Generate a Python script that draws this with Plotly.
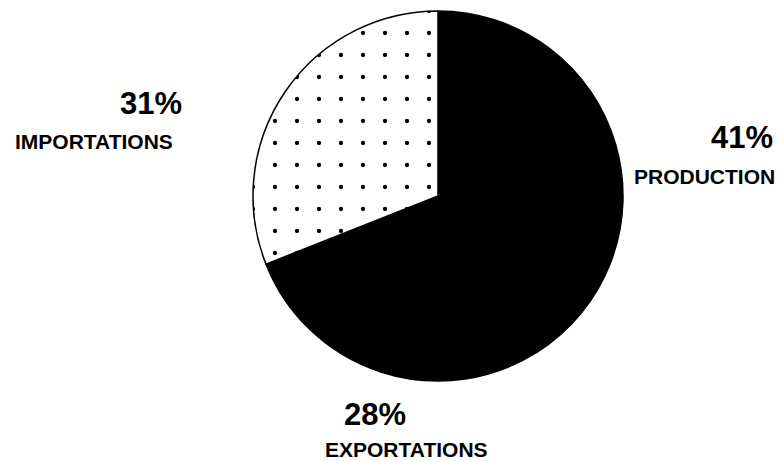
import plotly.graph_objects as go

labels = ["PRODUCTION", "EXPORTATIONS", "IMPORTATIONS"]
values = [41, 28, 31]
pct_text = ["41%", "28%", "31%"]
colors = ["#000000", "#000000", "#ffffff"]

W, H = 779, 461

fig = go.Figure()
fig.add_trace(go.Pie(
    labels=labels,
    values=values,
    sort=False,
    direction="clockwise",
    rotation=0,
    textinfo="none",
    hoverinfo="label+percent",
    showlegend=False,
    marker=dict(
        colors=colors,
        line=dict(color="#000000", width=1.5),
        pattern=dict(shape=["", "", "."], fgcolor="#000000", bgcolor=colors,
                     size=22, solidity=0.03),
    ),
    domain=dict(x=[(438 - 185) / W, (438 + 185) / W],
                y=[1 - (196 + 185) / H, 1 - (196 - 185) / H]),
))

# label positions (pixel centers) for percent and name text
pct_pos = {"PRODUCTION": (742, 137), "EXPORTATIONS": (375, 414), "IMPORTATIONS": (151, 103)}
name_pos = {"PRODUCTION": (704, 176), "EXPORTATIONS": (406, 449), "IMPORTATIONS": (94, 141)}

font_family = "Liberation Sans, Arial, sans-serif"
for lab, pct in zip(labels, pct_text):
    px, py = pct_pos[lab]
    fig.add_annotation(x=px / W, y=1 - py / H, xref="paper", yref="paper",
                       text=pct, showarrow=False, xanchor="center", yanchor="middle",
                       font=dict(family=font_family, size=31, color="#000000", weight="bold"))
    nx, ny = name_pos[lab]
    fig.add_annotation(x=nx / W, y=1 - ny / H, xref="paper", yref="paper",
                       text=lab, showarrow=False, xanchor="center", yanchor="middle",
                       font=dict(family=font_family, size=21, color="#000000", weight="bold"))

fig.update_layout(
    width=W, height=H,
    margin=dict(l=0, r=0, t=0, b=0),
    paper_bgcolor="#ffffff",
    plot_bgcolor="#ffffff",
)

fig.write_html("out.html")
